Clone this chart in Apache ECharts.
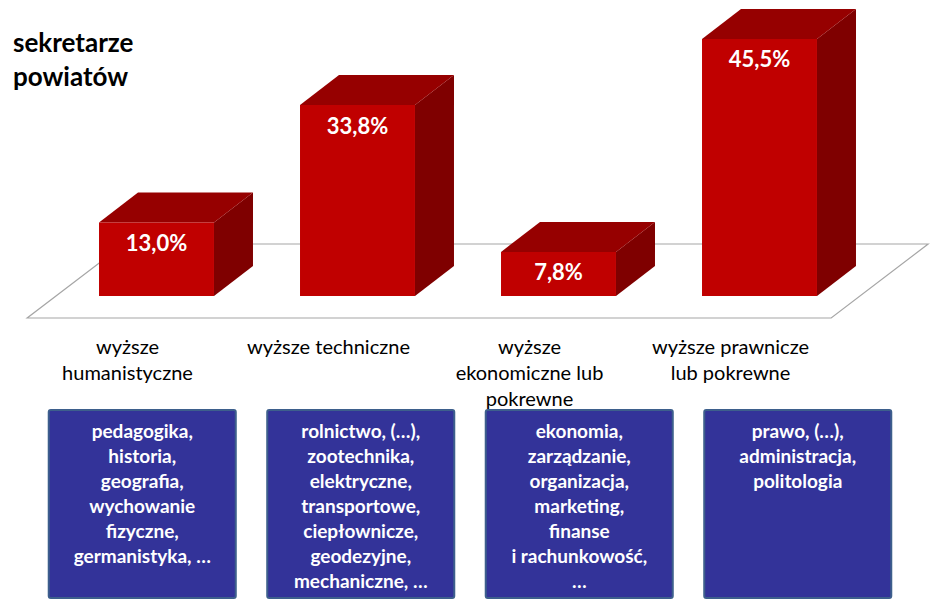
<!DOCTYPE html>
<html>
<head>
<meta charset="utf-8">
<script src="https://cdn.jsdelivr.net/npm/echarts@6.0.0/dist/echarts.min.js"></script>
<style>
  html, body { margin: 0; padding: 0; background: #fff; }
  #chart { width: 939px; height: 600px; }
</style>
</head>
<body>
<div id="chart"></div>
<script>
// dane
const categories = [
  'wyższe\nhumanistyczne',
  'wyższe techniczne',
  'wyższe\nekonomiczne lub\npokrewne',
  'wyższe prawnicze\nlub pokrewne'
];
const shares = [13.0, 33.8, 7.8, 45.5];
const fieldLists = [
  ['pedagogika,', 'historia,', 'geografia,', 'wychowanie', 'fizyczne,', 'germanistyka, …'],
  ['rolnictwo, (…),', 'zootechnika,', 'elektryczne,', 'transportowe,', 'ciepłownicze,', 'geodezyjne,', 'mechaniczne, …'],
  ['ekonomia,', 'zarządzanie,', 'organizacja,', 'marketing,', 'finanse', 'i rachunkowość,', '…'],
  ['prawo, (…),', 'administracja,', 'politologia']
];

const FONT = 'Lato, "Open Sans", sans-serif';
const DEPTH_X = 39;
const DEPTH_Y = 30;
const FLOOR_X = 97;
const FLOOR_Y = 74;

const chart = echarts.init(document.getElementById('chart'), null, { renderer: 'svg' });

const fmt = (v) => v.toFixed(1).replace('.', ',') + '%';

const option = {
  backgroundColor: '#fff',
  animation: false,
  title: {
    text: 'sekretarze\npowiatów',
    left: 8,
    top: 20,
    textStyle: {
      fontFamily: FONT,
      fontSize: 26,
      lineHeight: 34,
      fontWeight: 'bold',
      color: '#000'
    }
  },
  grid: [
    // słupki
    { left: 56, width: 804, top: 13.5, bottom: 304 },
    // podpisy kategorii (przednia krawędź podłogi)
    { left: 27, width: 804, top: 13.5, bottom: 282 },
    // niebieskie ramki
    { left: 33, width: 874, top: 410, bottom: 2 }
  ],
  xAxis: [
    { type: 'category', gridIndex: 0, data: categories, show: false },
    {
      type: 'category',
      gridIndex: 1,
      data: categories,
      axisLine: { show: false },
      axisTick: { show: false },
      axisLabel: {
        margin: 15,
        interval: 0,
        fontFamily: FONT,
        fontSize: 20,
        lineHeight: 26,
        color: '#000'
      }
    },
    { type: 'category', gridIndex: 2, data: categories, show: false }
  ],
  yAxis: [
    { type: 'value', gridIndex: 0, min: 0, max: 50, show: false },
    { type: 'value', gridIndex: 1, min: 0, max: 50, show: false },
    { type: 'value', gridIndex: 2, min: 0, max: 1, show: false }
  ],
  series: [
    {
      // podłoga
      type: 'custom',
      xAxisIndex: 0,
      yAxisIndex: 0,
      z: 1,
      data: [0],
      renderItem: (params, api) => {
        const cs = params.coordSys;
        const y0 = api.coord([0, 0])[1] + 22;
        const shift = 22 * FLOOR_X / FLOOR_Y;
        const xl = cs.x - shift;
        const xr = cs.x + cs.width - shift;
        return {
          type: 'polygon',
          shape: {
            points: [
              [xl, y0], [xr, y0],
              [xr + FLOOR_X, y0 - FLOOR_Y], [xl + FLOOR_X, y0 - FLOOR_Y]
            ]
          },
          style: { fill: '#fff', stroke: '#a6a6a6', lineWidth: 1.2 }
        };
      }
    },
    {
      // słupki 3D
      type: 'custom',
      xAxisIndex: 0,
      yAxisIndex: 0,
      z: 2,
      data: shares.map((v, i) => [i, v]),
      renderItem: (params, api) => {
        const base = api.coord([api.value(0), 0]);
        const top = api.coord([api.value(0), api.value(1)]);
        const w = api.size([1, 0])[0] * 0.572;
        const x0 = base[0] - w / 2;
        const x1 = base[0] + w / 2;
        const yb = base[1];
        const yt = top[1];
        return {
          type: 'group',
          children: [
            {
              type: 'polygon',
              shape: { points: [[x1, yb], [x1 + DEPTH_X, yb - DEPTH_Y], [x1 + DEPTH_X, yt - DEPTH_Y], [x1, yt]] },
              style: { fill: '#7f0000' }
            },
            {
              type: 'polygon',
              shape: { points: [[x0, yt], [x1, yt], [x1 + DEPTH_X, yt - DEPTH_Y], [x0 + DEPTH_X, yt - DEPTH_Y]] },
              style: { fill: '#960000' }
            },
            {
              type: 'rect',
              shape: { x: x0, y: yt, width: w, height: yb - yt },
              style: { fill: '#c00000' }
            },
            {
              type: 'text',
              style: {
                text: fmt(api.value(1)),
                x: base[0],
                y: yt + 20,
                align: 'center',
                verticalAlign: 'middle',
                fill: '#fff',
                font: 'bold 22px ' + FONT
              }
            }
          ]
        };
      }
    },
    {
      // ramki z kierunkami
      type: 'custom',
      xAxisIndex: 2,
      yAxisIndex: 2,
      z: 2,
      data: fieldLists.map((_, i) => [i]),
      renderItem: (params, api) => {
        const i = api.value(0);
        const c = api.coord([i, 1]);
        const b = api.coord([i, 0]);
        const w = api.size([1, 0])[0] * 0.856;
        return {
          type: 'group',
          children: [
            {
              type: 'rect',
              shape: { x: c[0] - w / 2, y: c[1], width: w, height: b[1] - c[1], r: 2 },
              style: { fill: '#333399', stroke: '#3d5f8c', lineWidth: 2 }
            },
            {
              type: 'text',
              style: {
                text: fieldLists[i].join('\n'),
                x: c[0],
                y: c[1] + 8,
                align: 'center',
                verticalAlign: 'top',
                fill: '#fff',
                font: 'bold 19px ' + FONT,
                lineHeight: 25
              }
            }
          ]
        };
      }
    }
  ]
};

chart.setOption(option);
</script>
</body>
</html>
